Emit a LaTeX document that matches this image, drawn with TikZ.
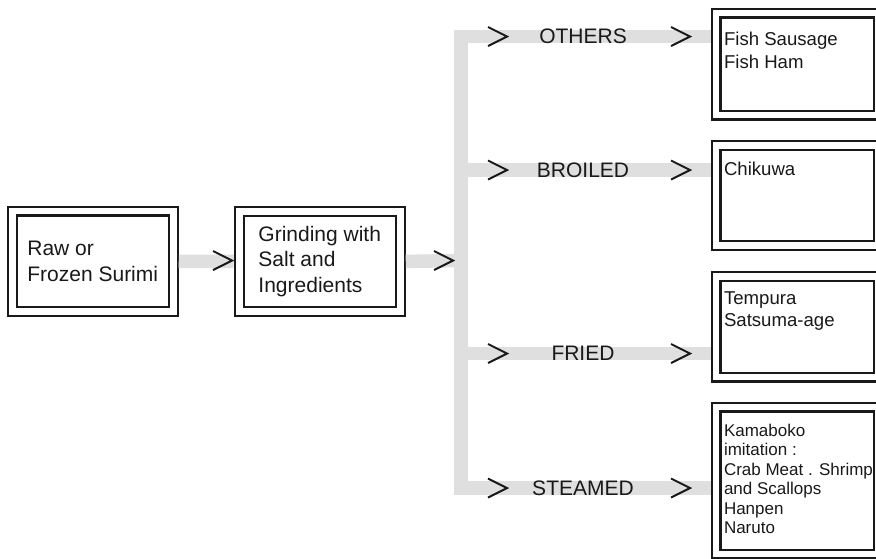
\documentclass[tikz,border=0pt]{standalone}
\usepackage{fontspec}
\setmainfont{Liberation Sans}
% product lines sit at the top of a frame of fixed height
\newcommand*{\boxlines}[2]{\makebox[146.5pt][l]{\parbox[c][#1][t]{190pt}{\raggedright #2}}}

\begin{document}
\begin{tikzpicture}[x=1pt, y=-1pt,
  % common options for the double framed boxes:
  box/.style = {draw=black!90, double, line width=2.1pt, double distance=6.8pt,
              outer sep=0, text=black!90},
  stage/.style = {box, minimum width=161pt, minimum height=100.5pt,
              inner sep=0, align=left, font=\fontsize{21}{25.5}\selectfont},
  product/.style = {box, anchor=north west, inner xsep=8pt, inner ysep=17pt,
              font=\fontsize{18.6}{22.5}\selectfont},
  % cooking methods written on the bars:
  method/.style = {inner sep=0, text=black!90, font=\fontsize{21}{25}\selectfont},
  bar/.style = {draw=gray!25, line width=13.5pt},
  chevline/.style = {draw=black!90, line width=2pt, line join=miter},
  chev/.pic = {\draw[chevline] (-19,-9.5) -- (0,0) -- (-19,9.5);}]

\useasboundingbox (0,0) rectangle (876,558);
\clip (0,0) rectangle (876,558);

% raw material and grinding
\node[stage] (raw) at (92.75,261.25) {Raw or\\Frozen Surimi};
\node[stage] (grind) at (319.75,261.5) {Grinding with\\Salt and\\Ingredients};

% products on the right (cut off by the page edge)
\node[product, inner ysep=19.5pt] (sausage) at (716,13)
  {\boxlines{63pt}{Fish Sausage\\Fish Ham}};
\node[product] (chikuwa) at (716,145.5) {\boxlines{66pt}{Chikuwa}};
\node[product, inner ysep=15pt] (tempura) at (716,276.5)
  {\boxlines{70.5pt}{Tempura\\Satsuma-age}};
\node[product, font=\fontsize{17}{19.5}\selectfont] (kamaboko) at (716,407)
  {\boxlines{113pt}{Kamaboko\\imitation :\\Crab Meat . Shrimp\\and Scallops\\Hanpen\\Naruto}};

% points on the vertical bar
\coordinate (trunk) at (461,260.5);
\coordinate (t1) at (461,36.5);
\coordinate (t2) at (461,170);
\coordinate (t3) at (461,353.5);
\coordinate (t4) at (461,488);

% grey bars
\draw[bar, shorten <=5.5pt, shorten >=5.5pt] (raw.east) -- (grind.west);
\draw[bar, shorten <=5.5pt] (grind.east) -- (trunk);
\draw[bar, line cap=rect] (t1) -- (t4);
\draw[bar, shorten >=5.5pt] (t1) -- (t1 -| sausage.west);
\draw[bar, shorten >=5.5pt] (t2) -- (t2 -| chikuwa.west);
\draw[bar, shorten >=5.5pt] (t3) -- (t3 -| tempura.west);
\draw[bar, shorten >=5.5pt] (t4) -- (t4 -| kamaboko.west);

% cooking methods
\node[method] (others) at (583,36.5) {OTHERS};
\node[method] (broiled) at (583,170) {BROILED};
\node[method] (fried) at (583,353.5) {FRIED};
\node[method] (steamed) at (583,488) {STEAMED};

% chevrons on the bars
\pic at (232,260.5) {chev};
\pic at (453,260.5) {chev};
\pic at (507,36.5) {chev};
\pic at (690,36.5) {chev};
\pic at (507,170) {chev};
\pic at (690,170) {chev};
\pic at (507,353.5) {chev};
\pic at (690,353.5) {chev};
\pic at (507,488) {chev};
\pic at (690,488) {chev};
\end{tikzpicture}
\end{document}
